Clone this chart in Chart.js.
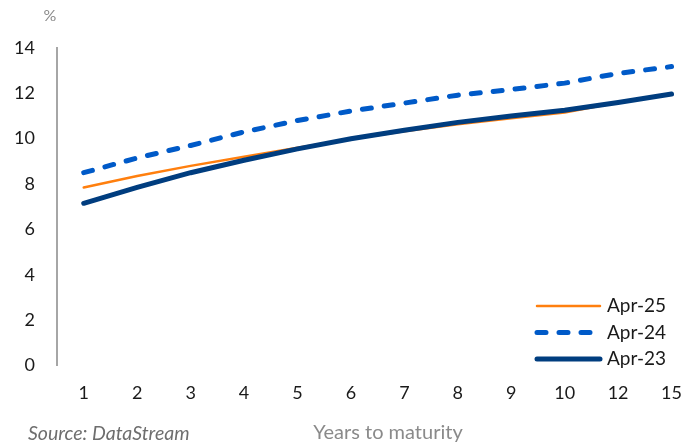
<!DOCTYPE html>
<html>
<head>
<meta charset="utf-8">
<script src="https://cdn.jsdelivr.net/npm/chart.js@4"></script>
<style>
  html, body { margin: 0; padding: 0; background: #fff; }
  #wrap { position: relative; width: 699px; height: 445px; }
</style>
</head>
<body>
<div id="wrap"><canvas id="myChart"></canvas></div>
<script>
// years to maturity
var maturities = ['1', '2', '3', '4', '5', '6', '7', '8', '9', '10', '12', '15'];
// yields, %
var apr25 = [7.85, 8.35, 8.8, 9.2, 9.6, 9.98, 10.33, 10.64, 10.9, 11.15, 11.6, 11.95];
var apr24 = [8.5, 9.15, 9.7, 10.3, 10.8, 11.22, 11.57, 11.92, 12.17, 12.45, 12.88, 13.18];
var apr23 = [7.15, 7.85, 8.5, 9.05, 9.55, 10.0, 10.37, 10.72, 11.0, 11.25, 11.6, 11.97];
var yTicks = [0, 2, 4, 6, 8, 10, 12, 14];

var FONT = 'Lato, "Open Sans", sans-serif';

// legend + side texts, drawn by hand so the line samples look like the original
var extras = {
  id: 'extras',
  afterDraw: function (chart) {
    var ctx = chart.ctx;
    var ds = chart.data.datasets;
    ctx.save();
    // "%" unit label
    ctx.font = '16px ' + FONT;
    ctx.fillStyle = '#8a8a8a';
    ctx.textAlign = 'center';
    ctx.textBaseline = 'middle';
    ctx.fillText('%', 50, 16);
    // axis title, sits a bit right of the plot centre in the original
    ctx.font = '20px ' + FONT;
    ctx.fillText('Years to maturity', 388, 433);
    // source note
    ctx.font = 'italic 19.5px ' + FONT;
    ctx.fillStyle = '#6e6e6e';
    ctx.textAlign = 'left';
    ctx.fillText('Source: DataStream', 28, 434);
    // legend
    var rows = [0, 1, 2];
    ctx.font = '19px ' + FONT;
    rows.forEach(function (i) {
      var y = 306 + i * 26.5;
      ctx.beginPath();
      ctx.lineWidth = ds[i].borderWidth;
      ctx.strokeStyle = ds[i].borderColor;
      ctx.lineCap = 'round';
      ctx.setLineDash(ds[i].borderDash || []);
      ctx.moveTo(537, y);
      ctx.lineTo(600, y);
      ctx.stroke();
      ctx.setLineDash([]);
      ctx.fillStyle = '#1a1a1a';
      ctx.textAlign = 'left';
      ctx.fillText(ds[i].label, 607, y);
    });
    ctx.restore();
  }
};

var ctx = document.getElementById('myChart').getContext('2d');
var chart = new Chart(ctx, {
  type: 'line',
  data: {
    labels: maturities,
    datasets: [{
      label: 'Apr-25',
      data: apr25,
      borderColor: '#ff7f0e',
      borderWidth: 2.5,
      borderCapStyle: 'round',
      order: 2
    }, {
      label: 'Apr-24',
      data: apr24,
      borderColor: '#005ac8',
      borderWidth: 5,
      borderDash: [9, 13],
      borderCapStyle: 'round',
      order: 1
    }, {
      label: 'Apr-23',
      data: apr23,
      borderColor: '#003d7f',
      borderWidth: 5,
      borderCapStyle: 'round',
      order: 0
    }]
  },
  plugins: [extras],
  options: {
    responsive: true,
    maintainAspectRatio: false,
    animation: false,
    layout: { padding: { top: 48, right: 0, bottom: 24, left: 0 } },
    elements: { point: { radius: 0 }, line: { tension: 0 } },
    plugins: {
      legend: { display: false },
      tooltip: { enabled: false }
    },
    scales: {
      x: {
        offset: true,
        grid: { display: false, drawTicks: false },
        border: { display: false },
        ticks: { color: '#1a1a1a', font: { family: FONT, size: 18 }, padding: 17, maxRotation: 0 }
      },
      y: {
        min: 0,
        max: 14,
        afterBuildTicks: function (scale) {
          scale.ticks = yTicks.map(function (v) { return { value: v }; });
        },
        afterFit: function (scale) { scale.width = 57; },
        grid: { display: false, drawTicks: false },
        border: { display: true, color: '#a6a6a6', width: 2 },
        ticks: { color: '#1a1a1a', font: { family: FONT, size: 18 }, padding: 22 }
      }
    }
  }
});
</script>
</body>
</html>
